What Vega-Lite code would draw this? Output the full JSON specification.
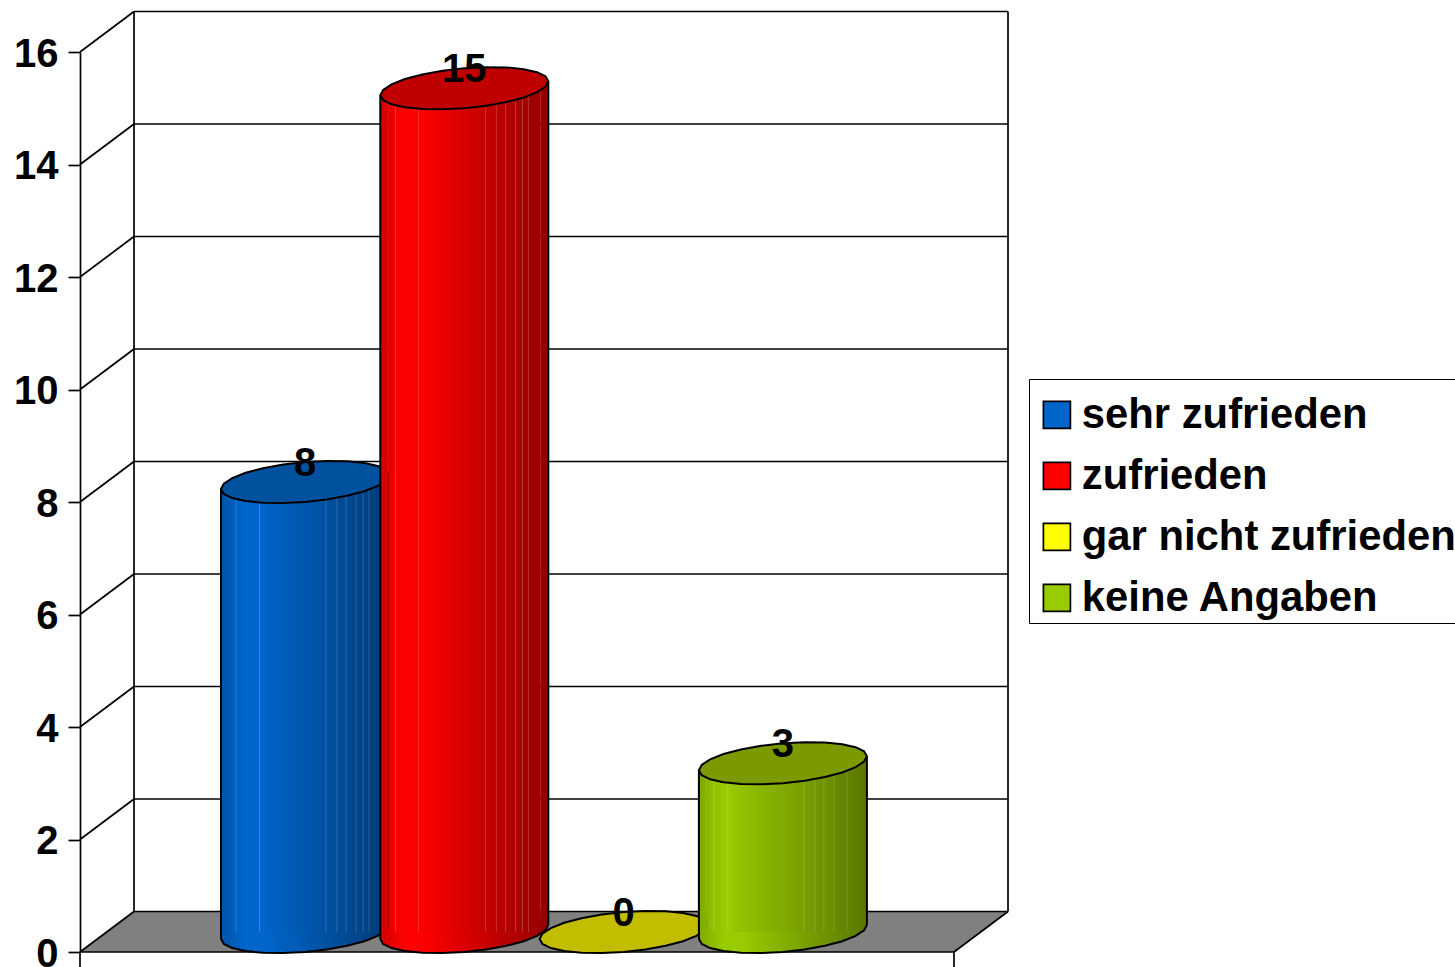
{"$schema":"https://vega.github.io/schema/vega-lite/v6.json","width":874,"height":900,"autosize":{"type":"none"},"padding":{"left":80,"top":52,"right":501,"bottom":15},"background":"white","config":{"view":{"stroke":null}},
"datasets":{
"cats":[{"category":"sehr zufrieden","value":8},{"category":"zufrieden","value":15},{"category":"gar nicht zufrieden","value":0},{"category":"keine Angaben","value":3}],
"floor":[{"d":0,"top":0,"bottom":0},{"d":0.0618,"top":0.72,"bottom":0},{"d":1,"top":0.72,"bottom":0},{"d":1.0618,"top":0.72,"bottom":0.72}],
"frame":[
{"a":0,"b":0.0618,"v":0,"w":0.72},{"a":0,"b":0.0618,"v":2,"w":2.72},{"a":0,"b":0.0618,"v":4,"w":4.72},{"a":0,"b":0.0618,"v":6,"w":6.72},{"a":0,"b":0.0618,"v":8,"w":8.72},{"a":0,"b":0.0618,"v":10,"w":10.72},{"a":0,"b":0.0618,"v":12,"w":12.72},{"a":0,"b":0.0618,"v":14,"w":14.72},{"a":0,"b":0.0618,"v":16,"w":16.72},
{"a":0.0618,"b":1.0618,"v":0.72,"w":0.72},{"a":0.0618,"b":1.0618,"v":2.72,"w":2.72},{"a":0.0618,"b":1.0618,"v":4.72,"w":4.72},{"a":0.0618,"b":1.0618,"v":6.72,"w":6.72},{"a":0.0618,"b":1.0618,"v":8.72,"w":8.72},{"a":0.0618,"b":1.0618,"v":10.72,"w":10.72},{"a":0.0618,"b":1.0618,"v":12.72,"w":12.72},{"a":0.0618,"b":1.0618,"v":14.72,"w":14.72},{"a":0.0618,"b":1.0618,"v":16.72,"w":16.72},
{"a":0.0618,"b":0.0618,"v":0.72,"w":16.72},{"a":1.0618,"b":1.0618,"v":0.72,"w":16.72},
{"a":0,"b":1,"v":0,"w":0},{"a":1,"b":1.0618,"v":0,"w":0.72},{"a":0,"b":0,"v":0,"w":-0.267},{"a":1,"b":1,"v":0,"w":-0.267}]
},
"data":{"name":"cats"},
"resolve":{"scale":{"x":"independent"}},
"layer":[
{"layer":[
{"data":{"name":"floor"},"mark":{"type":"area","fill":"#808080","opacity":1},"encoding":{"x":{"field":"d","type":"quantitative","axis":null,"scale":{"domain":[0,1],"range":[0,874]}},"y":{"field":"top","type":"quantitative","stack":null,"axis":{"values":[0,2,4,6,8,10,12,14,16],"format":"d","title":null,"grid":false,"tickSize":12,"tickWidth":1.7,"tickColor":"black","domainColor":"black","domainWidth":1.7,"labelFont":"Liberation Sans","labelFontWeight":"bold","labelFontSize":40,"labelColor":"black","labelPadding":10,"labelOffset":2,"labelOverlap":false,"labelBound":false,"labelFlush":false},"scale":{"domain":[0,16],"range":[900,0],"nice":false,"zero":false}},"y2":{"field":"bottom"}}},
{"data":{"name":"frame"},"mark":{"type":"rule","color":"black","strokeWidth":1.7},"encoding":{"x":{"field":"a","type":"quantitative","axis":null},"x2":{"field":"b"},"y":{"field":"v","type":"quantitative"},"y2":{"field":"w"}}}
]},
{"encoding":{"x":{"field":"category","type":"nominal","axis":null,"sort":null,"scale":{"type":"band","domain":["sehr zufrieden","zufrieden","gar nicht zufrieden","keine Angaben"],"range":[145.35,782.55],"paddingInner":0,"paddingOuter":0}},"y":{"field":"value","type":"quantitative","stack":null}},
"layer":[
{"mark":{"type":"bar","width":152,"yOffset":-20,"y2Offset":-20},"encoding":{"y2":{"datum":0},"color":{"field":"category","type":"nominal","sort":null,"scale":{"domain":["sehr zufrieden","zufrieden","gar nicht zufrieden","keine Angaben"],"range":["#0066cc","#ff0000","#ffff00","#99cc00"]},"legend":{"orient":"none","legendX":949,"legendY":327,"title":" ","titleFontSize":10,"titlePadding":2,"symbolType":"square","symbolSize":729,"symbolStrokeColor":"black","symbolStrokeWidth":1.7,"symbolOpacity":1,"symbolOffset":4,"labelFont":"Liberation Sans","labelFontWeight":"bold","labelFontSize":41.8,"labelColor":"black","labelOffset":4,"labelLimit":600,"rowPadding":18,"padding":3,"strokeColor":"black","fillColor":"white","columns":1}}}},
{"transform":[{"filter":"datum.category==='sehr zufrieden'"}],"layer":[
{"mark":{"type":"point","shape":"M1,-.0833L.966,-.0188L.866,.0468L.707,.1094L.5,.1644L.259,.2084L0,.238L-.259,.2514L-.5,.2478L-.707,.2272L-.866,.1912L-.966,.142L-1,.0833L-.966,.0188L-.866,-.0468L-.707,-.1094L-.5,-.1644L-.259,-.2084L0,-.238L.259,-.2514L.5,-.2478L.707,-.2272L.866,-.1912L.966,-.142Z","size":28224,"filled":true,"opacity":1,"yOffset":-20,"fill":{"gradient":"linear","x1":0,"x2":1,"y1":0,"y2":0,"stops":[{"offset":0,"color":"#0054a7"},{"offset":0.05,"color":"#005ab4"},{"offset":0.15,"color":"#0066cc"},{"offset":0.25,"color":"#0066cc"},{"offset":0.95,"color":"#003e7c"},{"offset":1,"color":"#003b76"}]}},"encoding":{"y":{"datum":0}}},
{"mark":{"type":"bar","width":8,"xOffset":-80,"yOffset":-13,"y2Offset":-13,"fill":{"gradient":"linear","x1":0,"x2":1,"y1":0,"y2":0,"stops":[{"offset":0,"color":"#0054a7"},{"offset":1,"color":"#005ab4"}]}},"encoding":{"y2":{"datum":0}}},
{"mark":{"type":"bar","width":8,"xOffset":80,"yOffset":-27,"y2Offset":-27,"fill":{"gradient":"linear","x1":0,"x2":1,"y1":0,"y2":0,"stops":[{"offset":0,"color":"#003e7c"},{"offset":1,"color":"#003b76"}]}},"encoding":{"y2":{"datum":0}}},
{"mark":{"type":"bar","width":152,"yOffset":-20,"y2Offset":-20,"fill":{"gradient":"linear","x1":0,"x2":1,"y1":0,"y2":0,"stops":[{"offset":0,"color":"#005ab4"},{"offset":0.041,"color":"#0061c2"},{"offset":0.046,"color":"#3f88d0"},{"offset":0.051,"color":"#0061c2"},{"offset":0.12,"color":"#0066cc"},{"offset":0.195,"color":"#0066cc"},{"offset":0.2,"color":"#3f8ed8"},{"offset":0.205,"color":"#0066cc"},{"offset":0.633,"color":"#00509f"},{"offset":0.638,"color":"#3f7ab5"},{"offset":0.643,"color":"#00509f"},{"offset":0.705,"color":"#004c98"},{"offset":0.71,"color":"#3f78af"},{"offset":0.715,"color":"#004c98"},{"offset":0.765,"color":"#004992"},{"offset":0.77,"color":"#3f75aa"},{"offset":0.775,"color":"#004992"},{"offset":0.831,"color":"#00468c"},{"offset":0.836,"color":"#3f72a4"},{"offset":0.841,"color":"#00468c"},{"offset":0.877,"color":"#004387"},{"offset":0.882,"color":"#3f70a0"},{"offset":0.887,"color":"#004387"},{"offset":0.916,"color":"#004183"},{"offset":0.921,"color":"#3f6e9c"},{"offset":0.926,"color":"#004183"},{"offset":1,"color":"#003e7c"}]}},"encoding":{"y2":{"datum":0}}},
{"mark":{"type":"point","shape":"M1,-.0833L.966,-.0188L.866,.0468L.707,.1094L.5,.1644L.259,.2084L0,.238L-.259,.2514L-.5,.2478L-.707,.2272L-.866,.1912L-.966,.142L-1,.0833","size":28224,"filled":false,"opacity":1,"yOffset":-20,"stroke":"black","strokeWidth":2},"encoding":{"y":{"datum":0}}},
{"mark":{"type":"rule","color":"black","strokeWidth":2,"xOffset":-84,"yOffset":-13,"y2Offset":-13},"encoding":{"y2":{"datum":0}}},
{"mark":{"type":"rule","color":"black","strokeWidth":2,"xOffset":84,"yOffset":-27,"y2Offset":-27},"encoding":{"y2":{"datum":0}}},
{"mark":{"type":"point","shape":"M1,-.0833L.966,-.0188L.866,.0468L.707,.1094L.5,.1644L.259,.2084L0,.238L-.259,.2514L-.5,.2478L-.707,.2272L-.866,.1912L-.966,.142L-1,.0833L-.966,.0188L-.866,-.0468L-.707,-.1094L-.5,-.1644L-.259,-.2084L0,-.238L.259,-.2514L.5,-.2478L.707,-.2272L.866,-.1912L.966,-.142Z","size":28224,"filled":true,"opacity":1,"yOffset":-20,"fill":"#00529f","stroke":"black","strokeWidth":2}}
]},
{"transform":[{"filter":"datum.category==='zufrieden'"}],"layer":[
{"mark":{"type":"point","shape":"M1,-.0833L.966,-.0188L.866,.0468L.707,.1094L.5,.1644L.259,.2084L0,.238L-.259,.2514L-.5,.2478L-.707,.2272L-.866,.1912L-.966,.142L-1,.0833L-.966,.0188L-.866,-.0468L-.707,-.1094L-.5,-.1644L-.259,-.2084L0,-.238L.259,-.2514L.5,-.2478L.707,-.2272L.866,-.1912L.966,-.142Z","size":28224,"filled":true,"opacity":1,"yOffset":-20,"fill":{"gradient":"linear","x1":0,"x2":1,"y1":0,"y2":0,"stops":[{"offset":0,"color":"#d10000"},{"offset":0.05,"color":"#e00000"},{"offset":0.15,"color":"#ff0000"},{"offset":0.25,"color":"#ff0000"},{"offset":0.95,"color":"#9b0000"},{"offset":1,"color":"#940000"}]}},"encoding":{"y":{"datum":0}}},
{"mark":{"type":"bar","width":8,"xOffset":-80,"yOffset":-13,"y2Offset":-13,"fill":{"gradient":"linear","x1":0,"x2":1,"y1":0,"y2":0,"stops":[{"offset":0,"color":"#d10000"},{"offset":1,"color":"#e00000"}]}},"encoding":{"y2":{"datum":0}}},
{"mark":{"type":"bar","width":8,"xOffset":80,"yOffset":-27,"y2Offset":-27,"fill":{"gradient":"linear","x1":0,"x2":1,"y1":0,"y2":0,"stops":[{"offset":0,"color":"#9b0000"},{"offset":1,"color":"#940000"}]}},"encoding":{"y2":{"datum":0}}},
{"mark":{"type":"bar","width":152,"yOffset":-20,"y2Offset":-20,"fill":{"gradient":"linear","x1":0,"x2":1,"y1":0,"y2":0,"stops":[{"offset":0,"color":"#e00000"},{"offset":0.041,"color":"#f20000"},{"offset":0.046,"color":"#f53f3f"},{"offset":0.051,"color":"#f20000"},{"offset":0.12,"color":"#ff0000"},{"offset":0.195,"color":"#ff0000"},{"offset":0.2,"color":"#ff3f3f"},{"offset":0.205,"color":"#ff0000"},{"offset":0.633,"color":"#c70000"},{"offset":0.638,"color":"#d24040"},{"offset":0.643,"color":"#c70000"},{"offset":0.705,"color":"#be0000"},{"offset":0.71,"color":"#cc4040"},{"offset":0.715,"color":"#be0000"},{"offset":0.765,"color":"#b70000"},{"offset":0.77,"color":"#c54040"},{"offset":0.775,"color":"#b70000"},{"offset":0.831,"color":"#af0000"},{"offset":0.836,"color":"#bf4040"},{"offset":0.841,"color":"#af0000"},{"offset":0.877,"color":"#a80000"},{"offset":0.882,"color":"#b94040"},{"offset":0.887,"color":"#a80000"},{"offset":0.916,"color":"#a30000"},{"offset":0.921,"color":"#b44040"},{"offset":0.926,"color":"#a30000"},{"offset":1,"color":"#9b0000"}]}},"encoding":{"y2":{"datum":0}}},
{"mark":{"type":"point","shape":"M1,-.0833L.966,-.0188L.866,.0468L.707,.1094L.5,.1644L.259,.2084L0,.238L-.259,.2514L-.5,.2478L-.707,.2272L-.866,.1912L-.966,.142L-1,.0833","size":28224,"filled":false,"opacity":1,"yOffset":-20,"stroke":"black","strokeWidth":2},"encoding":{"y":{"datum":0}}},
{"mark":{"type":"rule","color":"black","strokeWidth":2,"xOffset":-84,"yOffset":-13,"y2Offset":-13},"encoding":{"y2":{"datum":0}}},
{"mark":{"type":"rule","color":"black","strokeWidth":2,"xOffset":84,"yOffset":-27,"y2Offset":-27},"encoding":{"y2":{"datum":0}}},
{"mark":{"type":"point","shape":"M1,-.0833L.966,-.0188L.866,.0468L.707,.1094L.5,.1644L.259,.2084L0,.238L-.259,.2514L-.5,.2478L-.707,.2272L-.866,.1912L-.966,.142L-1,.0833L-.966,.0188L-.866,-.0468L-.707,-.1094L-.5,-.1644L-.259,-.2084L0,-.238L.259,-.2514L.5,-.2478L.707,-.2272L.866,-.1912L.966,-.142Z","size":28224,"filled":true,"opacity":1,"yOffset":-20,"fill":"#c00000","stroke":"black","strokeWidth":2}}
]},
{"transform":[{"filter":"datum.category==='gar nicht zufrieden'"}],"mark":{"type":"point","shape":"M1,-.0833L.966,-.0188L.866,.0468L.707,.1094L.5,.1644L.259,.2084L0,.238L-.259,.2514L-.5,.2478L-.707,.2272L-.866,.1912L-.966,.142L-1,.0833L-.966,.0188L-.866,-.0468L-.707,-.1094L-.5,-.1644L-.259,-.2084L0,-.238L.259,-.2514L.5,-.2478L.707,-.2272L.866,-.1912L.966,-.142Z","size":28224,"filled":true,"opacity":1,"yOffset":-20,"fill":"#c2bd00","stroke":"black","strokeWidth":2}},
{"transform":[{"filter":"datum.category==='keine Angaben'"}],"layer":[
{"mark":{"type":"point","shape":"M1,-.0833L.966,-.0188L.866,.0468L.707,.1094L.5,.1644L.259,.2084L0,.238L-.259,.2514L-.5,.2478L-.707,.2272L-.866,.1912L-.966,.142L-1,.0833L-.966,.0188L-.866,-.0468L-.707,-.1094L-.5,-.1644L-.259,-.2084L0,-.238L.259,-.2514L.5,-.2478L.707,-.2272L.866,-.1912L.966,-.142Z","size":28224,"filled":true,"opacity":1,"yOffset":-20,"fill":{"gradient":"linear","x1":0,"x2":1,"y1":0,"y2":0,"stops":[{"offset":0,"color":"#7da700"},{"offset":0.05,"color":"#87b400"},{"offset":0.15,"color":"#99cc00"},{"offset":0.25,"color":"#99cc00"},{"offset":0.95,"color":"#5d7c00"},{"offset":1,"color":"#597600"}]}},"encoding":{"y":{"datum":0}}},
{"mark":{"type":"bar","width":8,"xOffset":-80,"yOffset":-13,"y2Offset":-13,"fill":{"gradient":"linear","x1":0,"x2":1,"y1":0,"y2":0,"stops":[{"offset":0,"color":"#7da700"},{"offset":1,"color":"#87b400"}]}},"encoding":{"y2":{"datum":0}}},
{"mark":{"type":"bar","width":8,"xOffset":80,"yOffset":-27,"y2Offset":-27,"fill":{"gradient":"linear","x1":0,"x2":1,"y1":0,"y2":0,"stops":[{"offset":0,"color":"#5d7c00"},{"offset":1,"color":"#597600"}]}},"encoding":{"y2":{"datum":0}}},
{"mark":{"type":"bar","width":152,"yOffset":-20,"y2Offset":-20,"fill":{"gradient":"linear","x1":0,"x2":1,"y1":0,"y2":0,"stops":[{"offset":0,"color":"#87b400"},{"offset":0.041,"color":"#91c200"},{"offset":0.046,"color":"#abd140"},{"offset":0.051,"color":"#91c200"},{"offset":0.12,"color":"#99cc00"},{"offset":0.133,"color":"#99cc00"},{"offset":0.138,"color":"#b2d840"},{"offset":0.143,"color":"#99cc00"},{"offset":0.2,"color":"#93c400"},{"offset":0.633,"color":"#779f00"},{"offset":0.638,"color":"#97b440"},{"offset":0.643,"color":"#779f00"},{"offset":0.705,"color":"#729800"},{"offset":0.71,"color":"#93b040"},{"offset":0.715,"color":"#729800"},{"offset":0.765,"color":"#6e9200"},{"offset":0.77,"color":"#8fab40"},{"offset":0.775,"color":"#6e9200"},{"offset":0.831,"color":"#698c00"},{"offset":0.836,"color":"#8ba540"},{"offset":0.841,"color":"#698c00"},{"offset":0.916,"color":"#628300"},{"offset":0.921,"color":"#859d40"},{"offset":0.926,"color":"#628300"},{"offset":1,"color":"#5d7c00"}]}},"encoding":{"y2":{"datum":0}}},
{"mark":{"type":"point","shape":"M1,-.0833L.966,-.0188L.866,.0468L.707,.1094L.5,.1644L.259,.2084L0,.238L-.259,.2514L-.5,.2478L-.707,.2272L-.866,.1912L-.966,.142L-1,.0833","size":28224,"filled":false,"opacity":1,"yOffset":-20,"stroke":"black","strokeWidth":2},"encoding":{"y":{"datum":0}}},
{"mark":{"type":"rule","color":"black","strokeWidth":2,"xOffset":-84,"yOffset":-13,"y2Offset":-13},"encoding":{"y2":{"datum":0}}},
{"mark":{"type":"rule","color":"black","strokeWidth":2,"xOffset":84,"yOffset":-27,"y2Offset":-27},"encoding":{"y2":{"datum":0}}},
{"mark":{"type":"point","shape":"M1,-.0833L.966,-.0188L.866,.0468L.707,.1094L.5,.1644L.259,.2084L0,.238L-.259,.2514L-.5,.2478L-.707,.2272L-.866,.1912L-.966,.142L-1,.0833L-.966,.0188L-.866,-.0468L-.707,-.1094L-.5,-.1644L-.259,-.2084L0,-.238L.259,-.2514L.5,-.2478L.707,-.2272L.866,-.1912L.966,-.142Z","size":28224,"filled":true,"opacity":1,"yOffset":-20,"fill":"#7a9a00","stroke":"black","strokeWidth":2}}
]},
{"mark":{"type":"text","font":"Liberation Sans","fontWeight":"bold","fontSize":40,"color":"black","baseline":"middle","yOffset":-38.5},"encoding":{"text":{"field":"value","type":"quantitative"}}}
]}
]}
